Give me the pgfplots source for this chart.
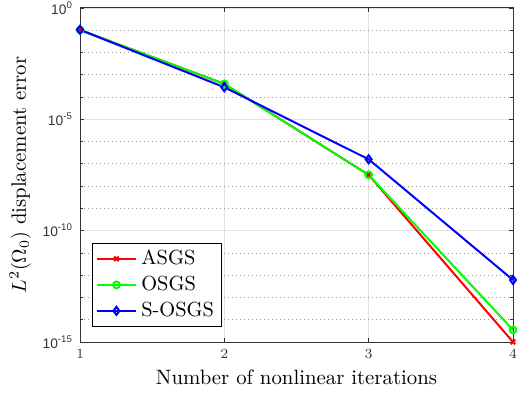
\documentclass[border=0pt]{standalone}
\usepackage{fontspec}
\usepackage{pgfplots}
\pgfplotsset{compat=1.18}
\newfontfamily\ticksf{Liberation Sans}
\begin{document}
\begin{tikzpicture}
\begin{axis}[
  scale only axis, width=216.5pt, height=167pt,
  ymode=log, xmin=1, xmax=4, ymin=1e-15, ymax=1,
  xtick={1,2,3,4},
  ytick={1e-15,1e-10,1e-5,1},
  yticklabels={10\textsuperscript{-15},10\textsuperscript{-10},10\textsuperscript{-5},10\textsuperscript{0}},
  minor ytick={1e-14,1e-13,1e-12,1e-11,1e-9,1e-8,1e-7,1e-6,1e-4,1e-3,1e-2,1e-1},
  ticklabel style={font=\ticksf\fontsize{6.9}{8}\selectfont, text=black!80},
  grid=both,
  major grid style={black!12, line width=0.4pt},
  minor grid style={black!40, line width=0.4pt, dash pattern=on 0.4pt off 1.6pt},
  axis line style={black!80, line width=0.5pt},
  tick style={black!80, line width=0.4pt},
  major tick length=2.2pt, minor tick length=1.3pt,
  tick align=inside, tick pos=both,
  xlabel={Number of nonlinear iterations},
  ylabel={$L^2(\Omega_0)$ displacement error},
  label style={font=\fontsize{10.4}{12}\selectfont},
  xlabel style={yshift=1pt},
  ylabel style={yshift=-1pt},
  legend style={at={(0.028,0.045)}, anchor=south west, font=\fontsize{10.2}{12}\selectfont, draw=black, line width=0.4pt, inner sep=1.5pt, row sep=0.3pt},
  legend cell align=left,
  legend image code/.code={\draw[mark repeat=2,mark phase=2] plot coordinates {(0cm,0cm)(0.35cm,0cm)(0.7cm,0cm)};},
]
\addplot[red, line width=1pt, mark=x, mark size=1.6pt] coordinates {(1,0.103)(2,3.9e-4)(3,3.2e-8)(4,1e-15)};
\addlegendentry{ASGS}
\addplot[green, line width=1pt, mark=o, mark size=1.7pt] coordinates {(1,0.103)(2,3.9e-4)(3,3.2e-8)(4,3.5e-15)};
\addlegendentry{OSGS}
\addplot[blue, line width=1pt, mark=diamond, mark size=2pt] coordinates {(1,0.105)(2,2.75e-4)(3,1.6e-7)(4,6.1e-13)};
\addlegendentry{S-OSGS}
\end{axis}
\pgfresetboundingbox
\path[use as bounding box] ([xshift=-40pt,yshift=-27pt]current axis.south west) rectangle ([xshift=2pt,yshift=4pt]current axis.north east);
\end{tikzpicture}
\end{document}
